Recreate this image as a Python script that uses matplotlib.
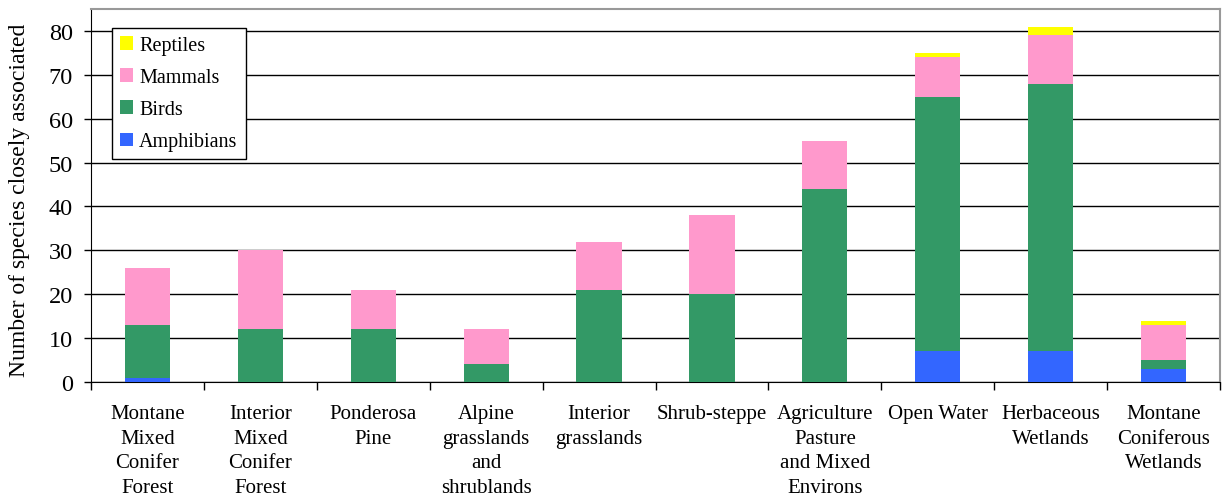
import matplotlib.pyplot as plt
import numpy as np

plt.rcParams['font.family'] = ['Liberation Serif', 'DejaVu Serif']

habitats = ['Montane\nMixed\nConifer\nForest', 'Interior\nMixed\nConifer\nForest',
            'Ponderosa\nPine', 'Alpine\ngrasslands\nand\nshrublands', 'Interior\ngrasslands',
            'Shrub-steppe', 'Agriculture\nPasture\nand Mixed\nEnvirons', 'Open Water',
            'Herbaceous\nWetlands', 'Montane\nConiferous\nWetlands']
amphibians = [1, 0, 0, 0, 0, 0, 0, 7, 7, 3]
birds = [12, 12, 12, 4, 21, 20, 44, 58, 61, 2]
mammals = [13, 18, 9, 8, 11, 18, 11, 9, 11, 8]
reptiles = [0, 0, 0, 0, 0, 0, 0, 1, 2, 1]

colors = {'Amphibians': '#3366FF', 'Birds': '#339966', 'Mammals': '#FF99CC', 'Reptiles': '#FFFF00'}

fig = plt.figure(figsize=(12.25, 5.02), dpi=100)
ax = fig.add_axes([91 / 1225, 1 - 383 / 502, 1129 / 1225, 373 / 502])

x = np.arange(len(habitats))
w = 0.4
bottom = np.zeros(len(habitats))
handles = []
for name, vals in [('Amphibians', amphibians), ('Birds', birds), ('Mammals', mammals), ('Reptiles', reptiles)]:
    b = ax.bar(x, vals, w, bottom=bottom, color=colors[name], label=name, zorder=3)
    handles.append(b)
    bottom += np.array(vals)

ax.set_xlim(-0.5, len(habitats) - 0.5)
ax.set_ylim(0, 85)
ax.set_yticks(range(0, 81, 10))
ax.tick_params(axis='y', labelsize=17.5, direction='out', length=5, width=1, pad=8)
ax.yaxis.grid(True, color='black', linewidth=1, zorder=0)
ax.set_axisbelow(True)

ax.set_xticks(x)
ax.set_xticklabels(habitats, fontsize=15, linespacing=1.4, va='top')
ax.tick_params(axis='x', length=0, pad=16)
ax.set_xticks(np.arange(-0.5, len(habitats)), minor=True)
ax.tick_params(axis='x', which='minor', length=6, width=1, direction='out')

ax.set_ylabel('Number of species closely associated', fontsize=17)
ax.yaxis.set_label_coords(-0.054, 0.49)

for s in ['top', 'right']:
    ax.spines[s].set_color('#999999')
    ax.spines[s].set_linewidth(1.5)
ax.spines['left'].set_color('black')
ax.spines['bottom'].set_color('black')

leg = ax.legend(handles[::-1], ['Reptiles', 'Mammals', 'Birds', 'Amphibians'],
                loc='upper left', bbox_to_anchor=(21 / 1129, 1 - 19 / 373), fontsize=14.5,
                fancybox=False, edgecolor='black', framealpha=1,
                handlelength=0.65, handleheight=0.65, labelspacing=0.65,
                handletextpad=0.3, borderpad=0.4, borderaxespad=0)
leg.get_frame().set_linewidth(1)

fig.savefig('out.png', dpi=100)
